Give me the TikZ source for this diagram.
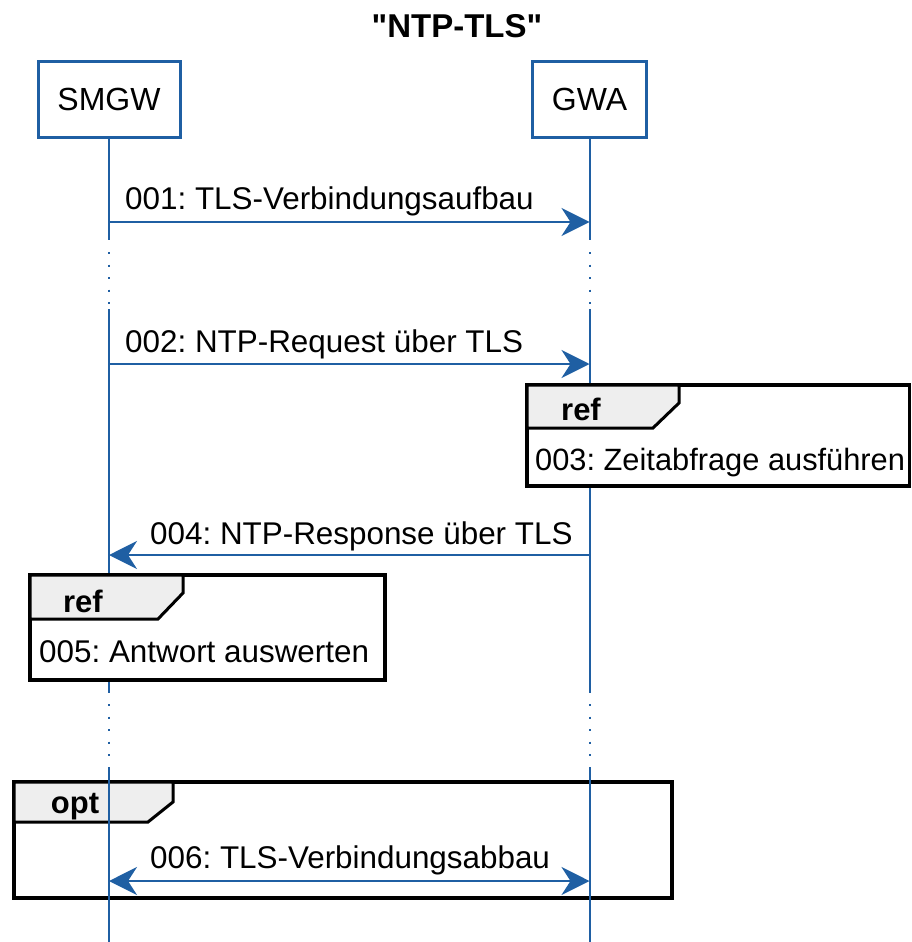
\documentclass[tikz,border=0pt]{standalone}
\usepackage{fontspec}
\setmainfont{Liberation Sans}
\newfontfamily\plainsans{Liberation Sans}
\usetikzlibrary{arrows.meta}
\definecolor{umlblue}{HTML}{1F5FA3}
\definecolor{tabgray}{HTML}{EEEEEE}
\frenchspacing
\tikzset{
  part/.style={draw=umlblue, line width=3pt, fill=white, inner sep=0pt, font=\fontsize{32}{38}\selectfont},
  lifeline/.style={draw=umlblue, line width=2pt},
  lifedots/.style={draw=umlblue, line width=2pt, dash pattern=on 2pt off 10.5pt},
  msgtip/.tip={Stealth[length=28pt,width=28pt,inset=9pt]},
  msg/.style={draw=umlblue, line width=2.2pt, -msgtip},
  bimsg/.style={draw=umlblue, line width=2.2pt, msgtip-msgtip},
  lbl/.style={anchor=base west, inner sep=0pt, font=\fontsize{31.4}{37}\selectfont},
  reftxt/.style={anchor=base west, inner sep=0pt, font=\fontsize{30.8}{37}\selectfont},
  frametitle/.style={anchor=base, inner sep=0pt, font=\fontsize{31}{37}\selectfont\bfseries},
  frame/.style={draw=black, line width=3.5pt, line join=miter},
  tab/.style={draw=black, line width=3pt, fill=tabgray, line join=miter},
}
\begin{document}
\frenchspacing
\begin{tikzpicture}[x=1pt,y=-1pt]
\useasboundingbox (0,0) rectangle (912,942);
\node[anchor=base, inner sep=0pt, font=\plainsans\fontsize{33}{40}\selectfont\bfseries] (title) at (457,38) {"NTP-TLS"};

% opt frame (behind lifelines)
\draw[frame] (14,782) rectangle (672,898);
\draw[tab] (14,782) -- (173,782) -- (173,802) -- (148,822) -- (14,822) -- cycle;
\node[frametitle] (optlbl) at (75,813) {opt};

% participants
\node[part, minimum width=142pt, minimum height=76pt] (smgw) at (109,99.5) {SMGW};
\node[part, minimum width=114pt, minimum height=76pt] (gwa) at (589.5,99.5) {GWA};

% lifeline coordinates
\coordinate (s1) at (109,240); \coordinate (s1a) at (109,252); \coordinate (s1b) at (109,304); \coordinate (s2) at (109,309);
\coordinate (s3) at (109,693); \coordinate (s3a) at (109,704); \coordinate (s3b) at (109,756); \coordinate (s4) at (109,767);
\coordinate (send) at (109,942);
\coordinate (g1) at (589.5,240); \coordinate (g1a) at (589.5,252); \coordinate (g1b) at (589.5,304); \coordinate (g2) at (589.5,309);
\coordinate (g3) at (589.5,693); \coordinate (g3a) at (589.5,704); \coordinate (g3b) at (589.5,756); \coordinate (g4) at (589.5,767);
\coordinate (gend) at (589.5,942);

\draw[lifeline] (smgw.south) -- (s1) (s2) -- (s3) (s4) -- (send);
\draw[lifedots] (s1a) -- (s1b) (s3a) -- (s3b);
\draw[lifeline] (gwa.south) -- (g1) (g2) -- (g3) (g4) -- (gend);
\draw[lifedots] (g1a) -- (g1b) (g3a) -- (g3b);
\node[part, minimum width=142pt, minimum height=76pt] at (smgw) {SMGW};
\node[part, minimum width=114pt, minimum height=76pt] at (gwa) {GWA};

% messages
\coordinate (m1s) at (109,222); \coordinate (m1g) at (589.5,222);
\draw[msg] (m1s) -- (m1g);
\node[lbl] (l1) at (125,209) {001: TLS-Verbindungsaufbau};

\coordinate (m2s) at (109,364); \coordinate (m2g) at (589.5,364);
\draw[msg] (m2s) -- (m2g);
\node[lbl] (l2) at (125,352) {002: NTP-Request über TLS};

% ref 1
\draw[frame, fill=white] (527,385) rectangle (909.5,486);
\draw[tab] (527,385) -- (679,385) -- (679,403) -- (653,428) -- (527,428) -- cycle;
\node[frametitle] (ref1) at (581,420) {ref};
\node[reftxt] (r1txt) at (535,470) {003: Zeitabfrage ausführen};

\coordinate (m4s) at (109,555); \coordinate (m4g) at (589.5,555);
\draw[msg] (m4g) -- (m4s);
\node[lbl] (l4) at (150,544) {004: NTP-Response über TLS};

% ref 2
\draw[frame, fill=white] (30,575) rectangle (385,680);
\draw[tab] (30,575) -- (183,575) -- (183,593) -- (158,619) -- (30,619) -- cycle;
\node[frametitle] (ref2) at (83,612) {ref};
\node[lbl] (r2txt) at (39,662) {005: Antwort auswerten};

% message 6
\coordinate (m6s) at (109,881); \coordinate (m6g) at (589.5,881);
\draw[bimsg] (m6s) -- (m6g);
\node[lbl] (l6) at (150,868) {006: TLS-Verbindungsabbau};
\end{tikzpicture}
\end{document}
